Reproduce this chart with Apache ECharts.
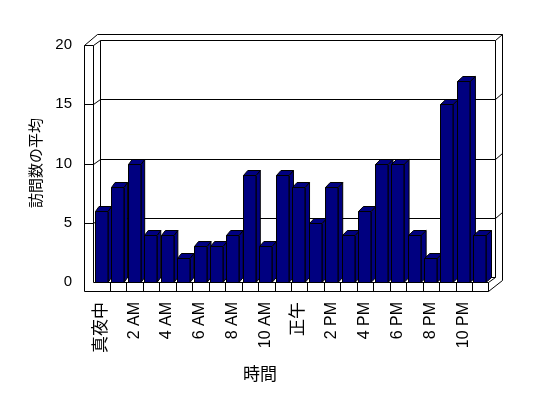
<!DOCTYPE html>
<html>
<head>
<meta charset="utf-8">
<script src="https://cdn.jsdelivr.net/npm/echarts@6.0.0/dist/echarts.min.js"></script>
<style>
  html, body { margin: 0; padding: 0; background: #fff; }
  #chart { width: 548px; height: 398px; }
</style>
</head>
<body>
<div id="chart"></div>
<script>
// ---- Data ----
const categories = ['真夜中','1 AM','2 AM','3 AM','4 AM','5 AM','6 AM','7 AM','8 AM','9 AM','10 AM','11 AM',
                    '正午','1 PM','2 PM','3 PM','4 PM','5 PM','6 PM','7 PM','8 PM','9 PM','10 PM','11 PM'];
const values = [6, 8, 10, 4, 4, 2, 3, 3, 4, 9, 3, 9, 8, 5, 8, 4, 6, 10, 10, 4, 2, 15, 17, 4];
const yMin = 0, yMax = 20, yStep = 5;
const gridValues = [5, 10, 15];
const xTitle = '時間';
const yTitle = '訪問数の平均';

const FONT = '"Liberation Sans", "Noto Sans CJK JP", sans-serif';
const NAVY = '#000080';

function line(x1, y1, x2, y2) {
  return { type: 'line', shape: { x1: x1, y1: y1, x2: x2, y2: y2 },
           style: { stroke: '#000', lineWidth: 1 } };
}
function h(v) { return Math.round(v) + 0.5; }

function renderFrame(params, api) {
  const bw = api.size([1, 0])[0];
  const xL = h(api.coord([0, 0])[0] - bw / 2);
  const xR = h(api.coord([categories.length - 1, 0])[0] + bw / 2);
  const yB = h(api.coord([0, yMin])[1]);
  const yT = h(api.coord([0, yMax])[1]);
  const W = 9;      // left wall thickness
  const F = 9;      // floor thickness
  const dX = 7, dY = -5;   // depth
  const tX = 14, tY = -11; // depth incl. back wall
  const c = [];
  // left wall
  c.push(line(xL - W, yT, xL - W, yB + F));
  c.push(line(xL, yT, xL, yB));
  c.push(line(xL - W, yT, xL, yT));
  c.push(line(xL - W, yT, xL + 4, yT + tY));
  c.push(line(xL, yT, xL + dX, yT + dY));
  // back wall
  c.push(line(xL + 4, yT + tY, xR + tX, yT + tY));
  c.push(line(xL + dX, yT + dY, xR + dX, yT + dY));
  c.push(line(xL + dX, yT + dY, xL + dX, yB + dY));
  c.push(line(xR + dX, yT + dY, xR + dX, yB + dY));
  c.push(line(xR + tX, yT + tY, xR + tX, yB - 2));
  c.push(line(xR + dX, yT + dY, xR + tX, yT + tY));
  c.push(line(xL + dX, yB + dY, xR + dX, yB + dY));
  // gridlines
  gridValues.forEach(function (v) {
    const y = h(api.coord([0, v])[1]);
    c.push(line(xL - W, y, xL, y));
    c.push(line(xL, y, xL + dX, y + dY));
    c.push(line(xL + dX, y + dY, xR + dX, y + dY));
    c.push(line(xR + dX, y + dY, xR + tX, y + tY));
  });
  // floor strip
  c.push(line(xL, yB, xR, yB));
  c.push(line(xL - W, yB + F, xR, yB + F));
  c.push(line(xR, yB, xR, yB + F));
  for (let k = 1; k < categories.length; k++) {
    const x = h(xL + k * bw);
    c.push(line(x, yB, x, yB + F));
  }
  c.push(line(xR, yB + F, xR + tX, yB - 2));
  c.push(line(xR, yB, xR + dX, yB + dY));
  return { type: 'group', children: c };
}

function renderBar(params, api) {
  const i = api.value(0);
  const v = api.value(1);
  const bw = api.size([1, 0])[0];
  const top = api.coord([i, v]);
  const base = api.coord([i, 0]);
  const x = Math.round(top[0] - bw / 2 + 1.8) + 0.5;
  const w = 12.5;
  const yT = Math.round(top[1]) + 0.5;
  const yB = Math.round(base[1]) + 0.5;
  const dx = 3.5 + 2 * (i / (categories.length - 1));
  const dy = -5;
  const st = { fill: NAVY, stroke: '#000', lineWidth: 1 };
  return {
    type: 'group',
    children: [
      { type: 'polygon', shape: { points: [[x + w, yT], [x + w + dx, yT + dy], [x + w + dx, yB + dy], [x + w, yB]] }, style: st },
      { type: 'polygon', shape: { points: [[x, yT], [x + dx, yT + dy], [x + w + dx, yT + dy], [x + w, yT]] }, style: st },
      { type: 'rect', shape: { x: x, y: yT, width: w, height: yB - yT }, style: st }
    ]
  };
}

const chart = echarts.init(document.getElementById('chart'), null, { renderer: 'canvas' });
chart.setOption({
  animation: false,
  backgroundColor: '#fff',
  grid: { left: 93, top: 45, width: 395, height: 237, containLabel: false },
  xAxis: {
    type: 'category',
    data: categories,
    axisLine: { show: false },
    axisTick: { show: false },
    splitLine: { show: false },
    axisLabel: {
      interval: 1, rotate: 90, margin: 20, fontSize: 16, color: '#000', fontFamily: FONT,
      formatter: function (v) { return /[A-Z]/.test(v) ? v : '{cjk|' + v + '}'; },
      rich: { cjk: { fontSize: 17, fontFamily: FONT, color: '#000' } }
    }
  },
  yAxis: {
    type: 'value',
    min: yMin, max: yMax, interval: yStep,
    axisLine: { show: false },
    axisTick: { show: false },
    splitLine: { show: false },
    axisLabel: { margin: 21, fontSize: 15, color: '#000', fontFamily: FONT }
  },
  graphic: [
    { type: 'text', x: 260, y: 375, style: { text: xTitle, font: '17px ' + FONT, fill: '#000', align: 'center', verticalAlign: 'middle' } },
    { type: 'text', x: 37, y: 163, rotation: Math.PI / 2, style: { text: yTitle, font: '15px ' + FONT, fill: '#000', align: 'center', verticalAlign: 'middle' } }
  ],
  series: [
    { type: 'custom', name: 'frame', data: [[0, 0]], renderItem: renderFrame, clip: false, z: 1, silent: true },
    { type: 'custom', name: '訪問数の平均', data: values.map(function (v, i) { return [i, v]; }), renderItem: renderBar, clip: false, z: 2 }
  ]
});
</script>
</body>
</html>
